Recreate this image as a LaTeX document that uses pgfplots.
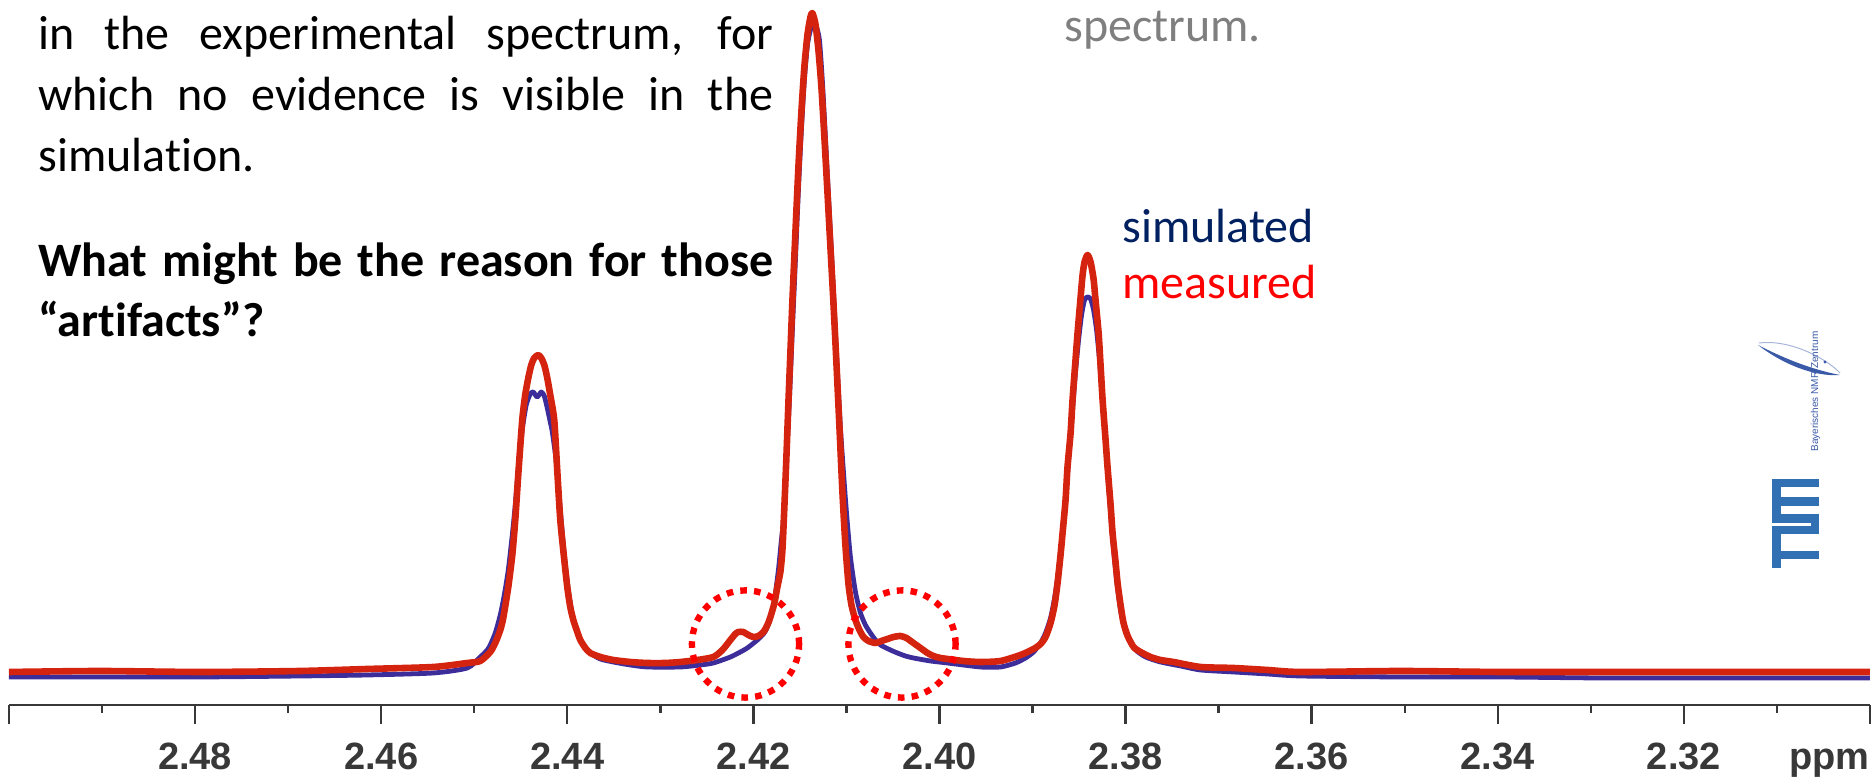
\documentclass[border=0pt]{standalone}
\usepackage{fontspec}
\setmainfont{Carlito}[Ligatures=NoCommon]
\newfontfamily\tickfont{Liberation Sans}
\usepackage{pgfplots}
\pgfplotsset{compat=1.18}
\definecolor{redcurve}{HTML}{D42410}
\definecolor{bluecurve}{HTML}{3C2D9B}
\definecolor{navy}{HTML}{002060}
\definecolor{axisgray}{HTML}{383838}
\definecolor{tumblue}{HTML}{3070B3}
\definecolor{nmrblue}{HTML}{3A5AA8}
\definecolor{txtgray}{HTML}{7F7F7F}
\begin{document}
\begin{tikzpicture}
\path[use as bounding box] (-4.5pt,-37.5pt) rectangle (933pt,352.5pt);
\begin{axis}[
  at={(0pt,0pt)}, anchor=south west,
  scale only axis, width=930.5pt, height=352.5pt,
  xmin=2.30, xmax=2.50, x dir=reverse,
  ymin=-33, ymax=672,
  axis x line=bottom, axis y line=none,
  axis line style={line width=1.3pt, color=axisgray, -},
  xtick={2.30,2.32,2.34,2.36,2.38,2.40,2.42,2.44,2.46,2.48,2.50},
  xticklabels={,2.32,2.34,2.36,2.38,2.40,2.42,2.44,2.46,2.48,},
  minor xtick={2.31,2.33,2.35,2.37,2.39,2.41,2.43,2.45,2.47,2.49},
  tick align=outside,
  major tick length=9.5pt, minor tick length=4pt,
  every tick/.style={line width=1.2pt, color=axisgray},
  xticklabel style={font={\tickfont\bfseries\fontsize{19}{23}\selectfont}, text=axisgray, anchor=base, yshift=-23pt, inner sep=0pt},
  clip=false,
]
\addplot[bluecurve, line width=2.4pt, smooth, tension=0.4, line join=round] coordinates {
(2.50000,-5) (2.49022,-5) (2.47946,-5) (2.46871,-4) (2.46151,-3) (2.45441,-1) (2.45075,4)
(2.44935,15) (2.44860,22) (2.44828,27) (2.44774,39) (2.44720,57) (2.44677,77) (2.44634,102)
(2.44591,137) (2.44559,167) (2.44527,202) (2.44484,242) (2.44441,267) (2.44398,278) (2.44366,280)
(2.44323,275) (2.44280,280) (2.44247,276) (2.44215,264) (2.44183,250) (2.44161,240) (2.44118,210)
(2.44075,162) (2.44032,117) (2.43989,82) (2.43946,57) (2.43892,39) (2.43828,27) (2.43753,19)
(2.43645,13) (2.43505,10) (2.43323,7) (2.43140,5) (2.42785,5) (2.42570,7) (2.42430,9)
(2.42247,15) (2.42140,20) (2.42065,24) (2.41957,32) (2.41892,38) (2.41849,45) (2.41785,65)
(2.41731,102) (2.41699,132) (2.41677,152) (2.41645,212) (2.41613,272) (2.41581,342) (2.41548,412)
(2.41516,482) (2.41484,542) (2.41452,592) (2.41419,627) (2.41387,642) (2.41355,648) (2.41323,645)
(2.41290,632) (2.41258,590) (2.41226,535) (2.41194,478) (2.41161,420) (2.41129,360) (2.41097,300)
(2.41065,245) (2.41032,200) (2.41000,160) (2.40957,115) (2.40903,80) (2.40849,59) (2.40796,47)
(2.40742,39) (2.40688,32) (2.40634,27) (2.40527,22) (2.40452,19) (2.40366,16) (2.40280,14)
(2.40097,11) (2.39914,9) (2.39559,5) (2.39344,5) (2.39183,9) (2.39075,14) (2.38989,20)
(2.38914,29) (2.38860,39) (2.38806,54) (2.38763,74) (2.38731,94) (2.38699,120) (2.38667,152)
(2.38634,187) (2.38602,225) (2.38570,262) (2.38538,300) (2.38505,332) (2.38473,357) (2.38441,372)
(2.38409,375) (2.38376,373) (2.38344,362) (2.38312,342) (2.38280,312) (2.38247,272) (2.38215,230)
(2.38183,188) (2.38151,147) (2.38118,112) (2.38086,84) (2.38054,62) (2.38011,44) (2.37957,31)
(2.37892,22) (2.37785,15) (2.37624,10) (2.37409,6) (2.37194,2) (2.36839,0) (2.36473,-2)
(2.36118,-4) (2.35043,-5) (2.33968,-5) (2.32892,-6) (2.31817,-6) (2.30000,-6)
};
\addplot[redcurve, line width=3.3pt, smooth, tension=0.4, line join=round] coordinates {
(2.50000,0) (2.49022,1) (2.47946,0) (2.46871,1) (2.46151,3) (2.45441,5) (2.45075,9)
(2.44935,11) (2.44828,20) (2.44774,29) (2.44720,42) (2.44688,54) (2.44634,85) (2.44591,117)
(2.44559,152) (2.44527,197) (2.44484,252) (2.44452,277) (2.44419,294) (2.44387,307) (2.44355,314)
(2.44312,317) (2.44280,314) (2.44247,307) (2.44215,294) (2.44183,277) (2.44140,252) (2.44108,202)
(2.44075,152) (2.44032,112) (2.44000,85) (2.43968,65) (2.43935,52) (2.43892,40) (2.43860,32)
(2.43806,24) (2.43753,19) (2.43645,15) (2.43505,12) (2.43323,10) (2.43140,9) (2.42946,9)
(2.42785,10) (2.42602,12) (2.42430,15) (2.42333,22) (2.42247,32) (2.42194,38) (2.42161,40)
(2.42108,40) (2.42054,37) (2.42000,35) (2.41946,36) (2.41892,40) (2.41849,47) (2.41817,55)
(2.41774,69) (2.41742,85) (2.41710,100) (2.41688,122) (2.41667,165) (2.41645,215) (2.41624,268)
(2.41602,320) (2.41581,370) (2.41548,440) (2.41516,505) (2.41484,560) (2.41452,605) (2.41419,637)
(2.41387,655) (2.41366,659) (2.41333,648) (2.41301,622) (2.41269,585) (2.41237,535) (2.41204,480)
(2.41172,425) (2.41140,370) (2.41108,310) (2.41075,245) (2.41043,180) (2.41011,127) (2.40978,88)
(2.40946,67) (2.40903,52) (2.40860,42) (2.40817,35) (2.40763,31) (2.40688,29) (2.40624,31)
(2.40559,33) (2.40495,35) (2.40419,36) (2.40355,34) (2.40280,29) (2.40204,24) (2.40129,19)
(2.40065,16) (2.39989,14) (2.39742,11) (2.39559,10) (2.39344,11) (2.39129,17) (2.38989,23)
(2.38914,28) (2.38860,35) (2.38806,49) (2.38763,67) (2.38731,89) (2.38699,117) (2.38677,139)
(2.38645,172) (2.38624,205) (2.38591,239) (2.38570,272) (2.38538,312) (2.38516,339) (2.38484,374)
(2.38462,397) (2.38441,410) (2.38409,417) (2.38376,410) (2.38344,393) (2.38323,372) (2.38290,339)
(2.38269,307) (2.38247,272) (2.38215,232) (2.38194,205) (2.38161,167) (2.38140,139) (2.38108,110)
(2.38086,89) (2.38054,67) (2.38022,49) (2.37978,36) (2.37914,25) (2.37839,20) (2.37731,15)
(2.37624,12) (2.37484,10) (2.37194,5) (2.36839,4) (2.36473,2) (2.36118,0) (2.35043,1)
(2.33968,0) (2.32892,0) (2.31817,0) (2.30000,0)
};
\end{axis}
% axis unit label
\node[anchor=base east, inner sep=0pt, font={\tickfont\bfseries\fontsize{19}{23}\selectfont}, text=axisgray] at (930.5pt,-32.5pt) {ppm};
% dotted circles
\draw[red, line width=3.2pt, dash pattern=on 3.3pt off 3.6pt] (368.25pt,30.5pt) circle (26.8pt);
\draw[red, line width=3.2pt, dash pattern=on 3.3pt off 3.6pt] (446.5pt,30.5pt) circle (26.8pt);
% text block
\begin{scope}[every node/.style={anchor=base west, inner sep=0pt, font={\fontsize{24}{28}\selectfont}}]
\node at (14.5pt,327.5pt) {\makebox[367.5pt][s]{in the experimental spectrum, for}};
\node at (14.5pt,297pt) {\makebox[367.5pt][s]{which no evidence is visible in the}};
\node at (14.5pt,266.5pt) {simulation.};
\node at (14.5pt,214pt) {\bfseries\makebox[367.5pt][s]{What might be the reason for those}};
\node at (14.5pt,184pt) {\bfseries “artifacts”?};
\node[text=txtgray] at (527.5pt,331.5pt) {spectrum.};
\node[text=navy] at (556.5pt,231pt) {simulated};
\node[text=red] at (556.5pt,203pt) {measured};
\end{scope}
% Bayerisches NMR Zentrum logo
\fill[nmrblue] (874.5pt,180pt) .. controls (886pt,171pt) and (902pt,164pt) .. (915.5pt,165pt) .. controls (901pt,167.8pt) and (887pt,173.5pt) .. (874.5pt,180pt) -- cycle;
\draw[nmrblue!45, line width=0.5pt] (875pt,181pt) .. controls (892pt,183pt) and (910pt,172pt) .. (915.5pt,166pt);
\fill[nmrblue] (908pt,171.5pt) circle (0.8pt);
\node[rotate=90, anchor=base west, inner sep=0pt, font={\tickfont\fontsize{5}{6}\selectfont}, text=nmrblue] at (904.5pt,126.5pt) {Bayerisches NMR Zentrum};
% TUM logo
\fill[tumblue] (881.35pt,108.85pt) rectangle (905pt,113pt);
\fill[tumblue] (881.35pt,90.85pt) rectangle (885.85pt,113pt);
\fill[tumblue] (881.35pt,99.65pt) rectangle (905pt,103.85pt);
\fill[tumblue] (881.35pt,90.85pt) rectangle (905pt,95.35pt);
\fill[tumblue] (900.85pt,85.5pt) rectangle (905pt,95.35pt);
\fill[tumblue] (881.35pt,85.5pt) rectangle (905pt,89.65pt);
\fill[tumblue] (881.35pt,68.35pt) rectangle (885.85pt,89.65pt);
\fill[tumblue] (885.85pt,73pt) rectangle (905pt,77.15pt);
\end{tikzpicture}
\end{document}
